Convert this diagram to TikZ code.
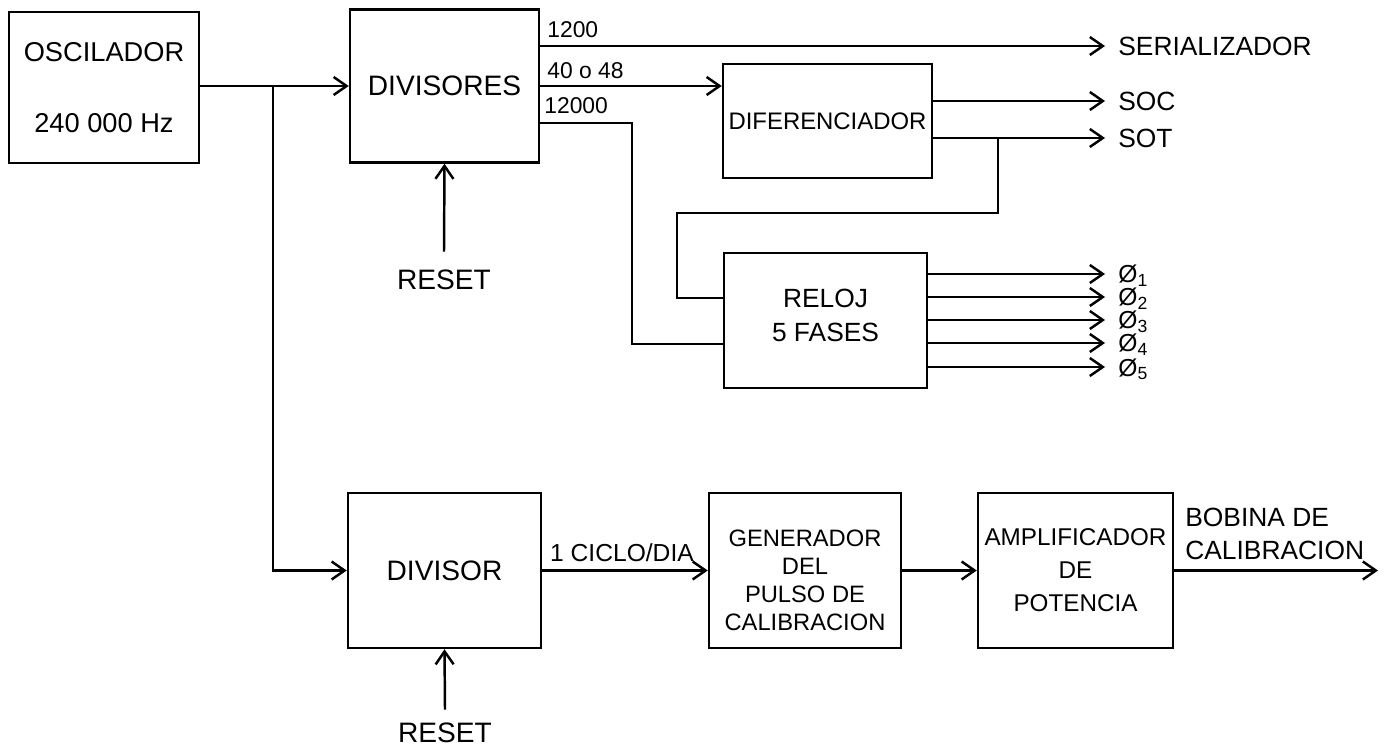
\documentclass[tikz,border=0pt]{standalone}
\usepackage{fontspec}
\setmainfont{Liberation Sans}
\usetikzlibrary{arrows.meta}

\tikzset{
  blk/.style={draw, line width=1.4pt, inner sep=0pt, align=center},
  wire/.style={line width=1.4pt},
  sig/.style={wire, -{Straight Barb[length=2.6mm, width=3.6mm]}},
  lbl/.style={inner sep=0pt, anchor=west},
}

\begin{document}
\begin{tikzpicture}[x=0.2mm, y=-0.2mm, font=\fontsize{15}{18}\selectfont]
    \useasboundingbox (0,0) rectangle (1386,749);

    % bloques
    \node[blk, minimum width=38mm, minimum height=30.2mm, font=\fontsize{15.5}{40.8}\selectfont] (osc) at (104,87.5) {OSCILADOR\\240 000 Hz};
    \node[blk, minimum width=37.8mm, minimum height=30.6mm, font=\fontsize{16}{18}\selectfont] (divs) at (444.5,86) {DIVISORES};
    \node[blk, minimum width=41.8mm, minimum height=22.8mm, font=\fontsize{13.6}{16}\selectfont] (dif) at (827.5,121) {DIFERENCIADOR};
    \node[blk, minimum width=40.6mm, minimum height=27mm] (reloj) at (825.5,320.5) {};
    \node[align=center, font=\fontsize{15}{19.3}\selectfont] (relojtxt) at (825.5,315) {RELOJ\\5 FASES};
    \node[blk, minimum width=38.6mm, minimum height=31mm, font=\fontsize{16}{18}\selectfont] (divr) at (444.5,570.5) {DIVISOR};
    \node[blk, minimum width=38.4mm, minimum height=31mm] (gen) at (805,570.5) {};
    \node[align=center, font=\fontsize{13.5}{15.9}\selectfont] (gentxt) at (805,580) {GENERADOR\\DEL\\PULSO DE\\CALIBRACION};
    \node[blk, minimum width=39mm, minimum height=31mm, font=\fontsize{13.8}{18.7}\selectfont] (amp) at (1075.5,570.5) {AMPLIFICADOR\\DE\\POTENCIA};

    % salidas de los divisores
    \coordinate (d1) at (539,46);
    \coordinate (d2) at (539,86);
    \coordinate (d3) at (539,123);
    \node[lbl, font=\fontsize{13}{15}\selectfont] (f1) at (547,30) {1200};
    \node[lbl, font=\fontsize{13}{15}\selectfont] (f2) at (547,71) {40 o 48};
    \node[lbl, font=\fontsize{13}{15}\selectfont] (f3) at (544,106) {12000};

    \coordinate (tser) at (1105,46);
    \coordinate (tsoc) at (1105,101);
    \coordinate (tsot) at (1105,138);
    \node[lbl] (ser) at (1118,46) {SERIALIZADOR};
    \node[lbl] (soc) at (1118,101) {SOC};
    \node[lbl] (sot) at (1118,138) {SOT};

    % entrada
    \coordinate (jn) at (273,86);
    \draw[sig] (osc.east |- divs.west) -- (divs.west);
    \draw[sig] (jn) |- (divr.west);

    \draw[sig] (d1) -- (tser);
    \draw[sig] (d2) -- (dif.west |- d2);
    \draw[sig] (dif.east |- tsoc) -- (tsoc);
    \draw[sig] (dif.east |- tsot) -- (tsot);

    % reloj
    \coordinate (rin1) at (724,298);
    \coordinate (rin2) at (724,344);
    \coordinate (tap) at (998,138);
    \draw[wire] (tap) -- ++(0,75) -| ++(-321,85) -- (rin1);
    \draw[wire] (d3) -- ++(93,0) |- (rin2);

    \foreach \i/\y in {1/274,2/297,3/320,4/343,5/367} {
        \coordinate (p\i) at (1105,\y);
        \node[inner sep=0pt, anchor=base west, font=\fontsize{14}{16}\selectfont] (ph\i) at (1118,\y+9) {Ø\raisebox{-2pt}{\fontsize{10}{12}\selectfont\i}};
        \draw[sig] (reloj.east |- p\i) -- (p\i);
    }

    % reset
    \node[inner ysep=3.6mm, font=\fontsize{16}{18}\selectfont] (rst1) at (444,280) {RESET};
    \draw[sig] (rst1.north) -- (divs.south);
    \node[inner ysep=2.6mm, font=\fontsize{16}{18}\selectfont] (rst2) at (445,733) {RESET};
    \draw[sig] (rst2.north) -- (divr.south);

    % calibracion
    \node[font=\fontsize{14}{16}\selectfont] (cic) at (622,553) {1 CICLO/DIA};
    \draw[sig] (divr.east) -- (gen.west);
    \draw[sig] (gen.east) -- (amp.west);
    \coordinate (bob) at (1378,570.5);
    \draw[sig] (amp.east) -- (bob);
    \node[lbl, font=\fontsize{15}{18}\selectfont] (bob1) at (1185,517) {BOBINA DE};
    \node[lbl, font=\fontsize{15}{18}\selectfont] (bob2) at (1185,550) {CALIBRACION};
\end{tikzpicture}
\end{document}
